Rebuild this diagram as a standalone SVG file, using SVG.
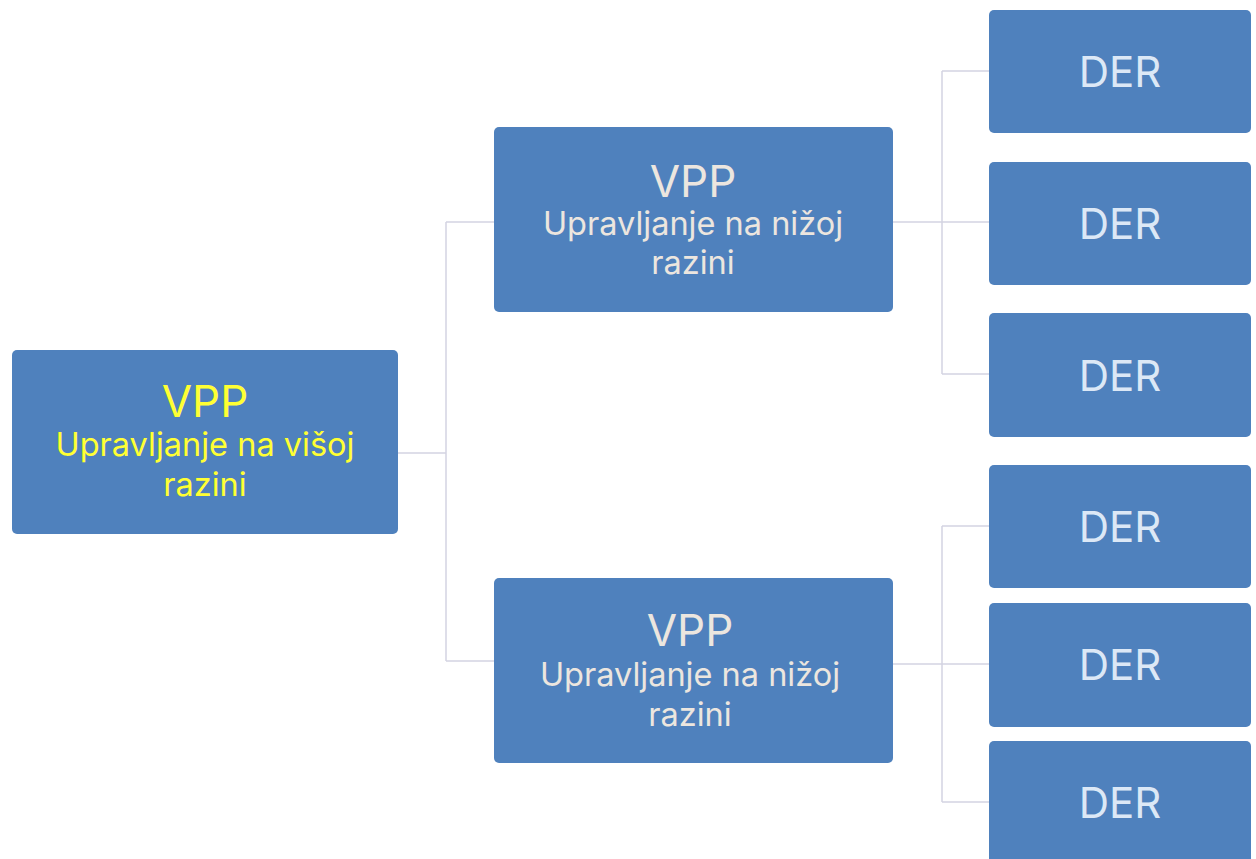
<svg xmlns="http://www.w3.org/2000/svg" width="1256" height="859" viewBox="0 0 1256 859">
<style>
.box{fill:#4f81bd;}
.ln{fill:none;stroke:#d4d4e2;stroke-width:1.5;}
text{font-family:Inter,"Noto Sans","Liberation Sans",sans-serif;text-anchor:middle;}
.root{fill:#ffff33;}
.mid{fill:#ece6df;}
.der{fill:#dce8f6;font-size:42px;}
.t1{font-size:44px;}
.t2{font-size:32.5px;}
</style>
<rect width="1256" height="859" fill="#ffffff"/>
<g id="connectors">
<path class="ln" d="M398 453H446M446 222V661M446 222H494M446 661H494"/>
<path class="ln" d="M893 222H942M942 71V374M942 71H989M942 222H989M942 374H989"/>
<path class="ln" d="M893 664H942M942 526V802M942 526H989M942 664H989M942 802H989"/>
</g>
<g id="root">
<rect class="box" x="12" y="350" width="386" height="184" rx="5"/>
<text class="root t1" x="205" y="417">VPP</text>
<text class="root t2" x="205" y="456">Upravljanje na višoj</text>
<text class="root t2" x="205" y="496">razini</text>
</g>
<g id="mid1">
<rect class="box" x="494" y="127" width="399" height="185" rx="5"/>
<text class="mid t1" x="693" y="197">VPP</text>
<text class="mid t2" x="693" y="235">Upravljanje na nižoj</text>
<text class="mid t2" x="693" y="274">razini</text>
</g>
<g id="mid2">
<rect class="box" x="494" y="578" width="399" height="185" rx="5"/>
<text class="mid t1" x="690" y="646">VPP</text>
<text class="mid t2" x="690" y="686">Upravljanje na nižoj</text>
<text class="mid t2" x="690" y="726">razini</text>
</g>
<g id="der1"><rect class="box" x="989" y="10" width="262" height="123" rx="5"/><text class="der" x="1120" y="87">DER</text></g>
<g id="der2"><rect class="box" x="989" y="162" width="262" height="123" rx="5"/><text class="der" x="1120" y="239">DER</text></g>
<g id="der3"><rect class="box" x="989" y="313" width="262" height="124" rx="5"/><text class="der" x="1120" y="391">DER</text></g>
<g id="der4"><rect class="box" x="989" y="465" width="262" height="123" rx="5"/><text class="der" x="1120" y="542">DER</text></g>
<g id="der5"><rect class="box" x="989" y="603" width="262" height="124" rx="5"/><text class="der" x="1120" y="680">DER</text></g>
<g id="der6"><rect class="box" x="989" y="741" width="262" height="130" rx="5"/><text class="der" x="1120" y="818">DER</text></g>
</svg>
